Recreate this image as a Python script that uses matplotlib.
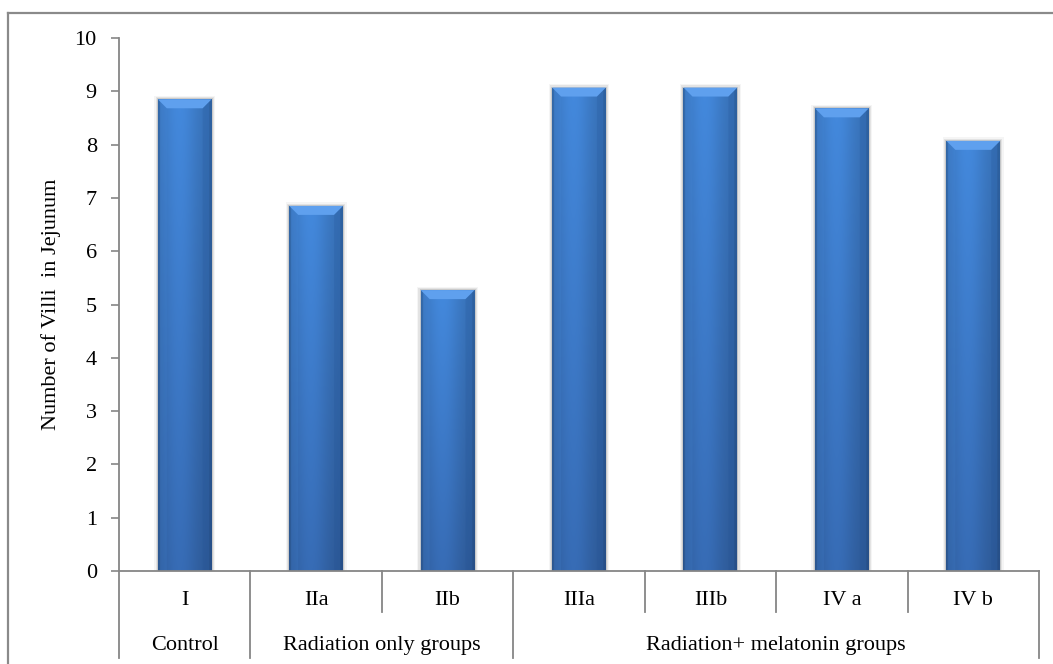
import numpy as np
import matplotlib
matplotlib.use("Agg")
import matplotlib.pyplot as plt
from matplotlib.patches import Polygon, Rectangle
from matplotlib.lines import Line2D
import matplotlib.transforms as mtransforms

# Villi counts per group
groups = ["I", "IIa", "IIb", "IIIa", "IIIb", "IV a", "IV b"]
villi = [8.85, 6.85, 5.27, 9.07, 9.07, 8.68, 8.07]

# Second-level category labels and the first/last bar index each spans
super_labels = ["Control", "Radiation only groups", "Radiation+ melatonin groups"]
super_spans = [(0, 0), (1, 2), (3, 6)]

y_ticks = list(range(0, 11))

plt.rcParams["font.family"] = ["Liberation Serif", "DejaVu Serif"]
FS = 16
AXIS_GREY = "#868686"

fig = plt.figure(figsize=(10.53, 6.64), dpi=100)
ax = fig.add_axes([0.113, 0.14, 0.8737, 0.8028])

x = np.arange(len(groups))
width = 0.41
bars = ax.bar(x, villi, width=width, color="#3d7bc8", zorder=3, linewidth=0)

# horizontal shading profile across a bar: dark rim, bright middle, darker right flank
u = np.linspace(0, 1, 80)
profile = 0.84 + 0.18 * np.exp(-((u - 0.40) / 0.34) ** 2)
profile[u < 0.03] = 0.74
profile[u > 0.96] = 0.76
top_rgb = np.array([0x42, 0x86, 0xd8]) / 255.0
bot_rgb = np.array([0x36, 0x6a, 0xb2]) / 255.0

px_x = (ax.get_position().width * fig.get_figwidth() * fig.dpi) / (len(groups))
px_y = (ax.get_position().height * fig.get_figheight() * fig.dpi) / 10.0
bevel_px = 9

for rect, h in zip(bars, villi):
    x0 = rect.get_x()
    x1 = x0 + rect.get_width()
    # soft drop shadow
    for k, a in ((3.5, 0.04), (2.2, 0.07), (1.0, 0.11)):
        ax.add_patch(Rectangle((x0 - k / px_x, 0), (x1 - x0) + 2 * k / px_x, h + k / px_y,
                               facecolor="#000000", alpha=a, linewidth=0, zorder=2))
    v = np.linspace(1, 0, 80)[:, None, None]
    img = (bot_rgb + (top_rgb - bot_rgb) * v) * profile[None, :, None]
    img = np.clip(img, 0, 1)
    im = ax.imshow(img, extent=(x0, x1, 0, h), aspect="auto", zorder=4,
                   interpolation="bilinear", origin="upper")
    im.set_clip_path(rect)
    dx = bevel_px / px_x
    dy = bevel_px / px_y
    ax.add_patch(Polygon([(x0, h), (x1, h), (x1 - dx, h - dy), (x0 + dx, h - dy)],
                         closed=True, facecolor="#5fa0ee", edgecolor="none", zorder=5))
    ax.add_patch(Polygon([(x0, h), (x0 + dx, h - dy), (x0 + dx, 0), (x0, 0)],
                         closed=True, facecolor="#4a8ee0", alpha=0.15, edgecolor="none", zorder=5))
    ax.add_patch(Polygon([(x1, h), (x1 - dx, h - dy), (x1 - dx, 0), (x1, 0)],
                         closed=True, facecolor="#1f4f92", alpha=0.18, edgecolor="none", zorder=5))

ax.set_xlim(-0.5, len(groups) - 0.5)
ax.set_ylim(0, 10)
ax.set_yticks(y_ticks)
ax.set_yticklabels([str(t) for t in y_ticks], fontsize=FS)
ax.tick_params(axis="y", direction="out", length=6, width=1.2, color=AXIS_GREY, pad=10)
ax.set_xticks([])

for side in ("top", "right"):
    ax.spines[side].set_visible(False)
for side in ("left", "bottom"):
    ax.spines[side].set_color(AXIS_GREY)
    ax.spines[side].set_linewidth(1.3)
    ax.spines[side].set_zorder(6)

ax.set_ylabel("Number of Villi  in Jejunum", fontsize=FS, labelpad=10)

# two-level category axis
trans = mtransforms.blended_transform_factory(ax.transData, ax.transAxes)
row1, row2 = -0.056, -0.139
long_end, short_end = -0.163, -0.077
for i, g in enumerate(groups):
    ax.text(i, row1, g, transform=trans, ha="center", va="center", fontsize=FS)
group_edges = {s - 0.5 for s, _ in super_spans} | {e + 0.5 for _, e in super_spans}
for b in np.arange(-0.5, len(groups), 1.0):
    end = long_end if any(abs(b - g) < 1e-9 for g in group_edges) else short_end
    ax.add_line(Line2D([b, b], [0, end], transform=trans, color=AXIS_GREY,
                       linewidth=1.3, clip_on=False))
for lab, (s, e) in zip(super_labels, super_spans):
    ax.text((s + e) / 2, row2, lab, transform=trans, ha="center", va="center", fontsize=FS)

# chart frame (left and top edges)
fig.add_artist(Line2D([0.0076, 0.0076], [0.0, 0.980], transform=fig.transFigure,
                      color="#8a8a8a", linewidth=1.6))
fig.add_artist(Line2D([0.0076, 1.0], [0.980, 0.980], transform=fig.transFigure,
                      color="#8a8a8a", linewidth=1.6))

fig.savefig("out.png", dpi=100, facecolor="white")
